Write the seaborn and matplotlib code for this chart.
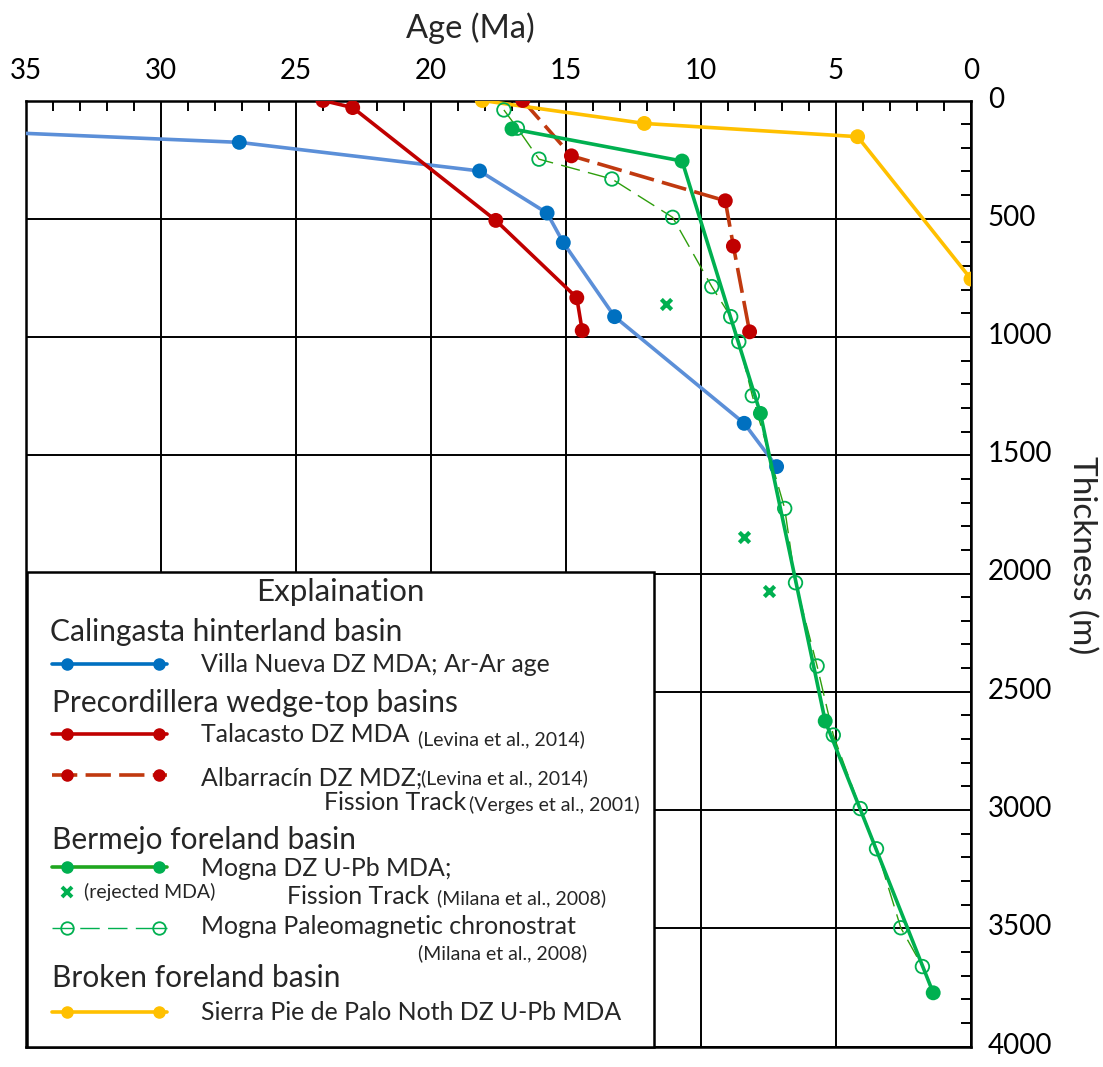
import matplotlib
matplotlib.use("Agg")
import matplotlib.pyplot as plt
import matplotlib.transforms as mtransforms
import seaborn as sns
import pandas as pd
from matplotlib.lines import Line2D
from matplotlib.patches import Rectangle
from matplotlib.ticker import MultipleLocator

# ---- data: age (Ma) vs stratigraphic thickness (m) ----
villa_age = [40.0, 27.1, 18.2, 15.7, 15.1, 13.2, 8.4, 7.2]
villa_thk = [115, 177, 298, 476, 601, 914, 1365, 1548]

talacasto_age = [24.0, 22.9, 17.6, 14.6, 14.4]
talacasto_thk = [0, 30, 507, 834, 973]

albarracin_age = [16.6, 14.8, 9.1, 8.8, 8.2]
albarracin_thk = [0, 234, 424, 616, 978]

mogna_age = [17.0, 10.7, 7.8, 5.4, 1.4]
mogna_thk = [120, 256, 1323, 2624, 3773]

rejected_age = [11.3, 8.4, 7.5]
rejected_thk = [861, 1845, 2074]

paleomag_age = [17.3, 16.8, 16.0, 13.3, 11.05, 9.6, 8.9, 8.6, 8.1, 6.9, 6.5,
                5.7, 5.1, 4.1, 3.5, 2.6, 1.8]
paleomag_thk = [40, 117, 248, 332, 494, 787, 914, 1020, 1248, 1725, 2039,
                2391, 2683, 2994, 3164, 3498, 3662]

sierra_age = [18.1, 12.1, 4.2, 0.0]
sierra_thk = [0, 97, 153, 755]

age_ticks = [35, 30, 25, 20, 15, 10, 5, 0]
thk_ticks = [0, 500, 1000, 1500, 2000, 2500, 3000, 3500, 4000]

# ---- colours ----
BLUE_LINE = "#5B8FD8"
BLUE_MK = "#0070C0"
RED = "#C00000"
RED_DASH = "#C0390F"
GREEN = "#00B050"
GREEN_DASH = "#2E9E0C"
YELLOW = "#FFC000"

sns.set_style("white")
plt.rcParams["font.family"] = ["Lato", "DejaVu Sans"]

W, H, DPI = 1103, 1067, 100
fig = plt.figure(figsize=(W / DPI, H / DPI), dpi=DPI)
# pixel transform with origin top-left
pix = mtransforms.Affine2D().scale(1 / W, -1 / H).translate(0, 1) + fig.transFigure

AX_L, AX_R, AX_T, AX_B = 26, 971, 100.5, 1046.5
ax = fig.add_axes([AX_L / W, 1 - AX_B / H, (AX_R - AX_L) / W, (AX_B - AX_T) / H])

LW = 2.6
MS = 115

def frame(x, y):
    return pd.DataFrame({"age": x, "thk": y})

# Villa Nueva
d = frame(villa_age, villa_thk)
sns.lineplot(data=d, x="age", y="thk", sort=False, estimator=None, ax=ax,
             color=BLUE_LINE, lw=LW, zorder=3)
sns.scatterplot(data=d, x="age", y="thk", ax=ax, color=BLUE_MK, s=MS,
                edgecolor="none", zorder=4)

# Talacasto
d = frame(talacasto_age, talacasto_thk)
sns.lineplot(data=d, x="age", y="thk", sort=False, estimator=None, ax=ax,
             color=RED, lw=LW, zorder=3)
sns.scatterplot(data=d, x="age", y="thk", ax=ax, color=RED, s=MS,
                edgecolor="none", zorder=4)

# Albarracin
d = frame(albarracin_age, albarracin_thk)
sns.lineplot(data=d, x="age", y="thk", sort=False, estimator=None, ax=ax,
             color=RED_DASH, lw=LW, ls=(0, (7, 2.3)), zorder=3)
sns.scatterplot(data=d, x="age", y="thk", ax=ax, color=RED, s=MS,
                edgecolor="none", zorder=4)

# Mogna paleomagnetic chronostratigraphy
d = frame(paleomag_age, paleomag_thk)
sns.lineplot(data=d, x="age", y="thk", sort=False, estimator=None, ax=ax,
             color=GREEN_DASH, lw=1.0, ls=(0, (14, 6)), zorder=3)
sns.scatterplot(data=d, x="age", y="thk", ax=ax, s=95, facecolor="none",
                edgecolor=GREEN, linewidth=1.3, zorder=5)

# Mogna DZ U-Pb
d = frame(mogna_age, mogna_thk)
sns.lineplot(data=d, x="age", y="thk", sort=False, estimator=None, ax=ax,
             color=GREEN, lw=LW, zorder=4)
sns.scatterplot(data=d, x="age", y="thk", ax=ax, color=GREEN, s=MS,
                edgecolor="none", zorder=5)

# rejected MDA
d = frame(rejected_age, rejected_thk)
sns.scatterplot(data=d, x="age", y="thk", ax=ax, color=GREEN, marker="x",
                s=55, linewidth=3, zorder=5)

# Sierra Pie de Palo
d = frame(sierra_age, sierra_thk)
sns.lineplot(data=d, x="age", y="thk", sort=False, estimator=None, ax=ax,
             color=YELLOW, lw=LW, zorder=3)
sns.scatterplot(data=d, x="age", y="thk", ax=ax, color=YELLOW, s=MS,
                edgecolor="none", zorder=4)

# ---- axes ----
ax.set_xlim(35, 0)
ax.set_ylim(4000, 0)
ax.xaxis.tick_top()
ax.yaxis.tick_right()
ax.set_xticks(age_ticks)
ax.set_yticks(thk_ticks)
ax.xaxis.set_minor_locator(MultipleLocator(1))
ax.yaxis.set_minor_locator(MultipleLocator(100))
ax.tick_params(which="both", direction="in", colors="black", width=1.4)
ax.tick_params(axis="x", which="major", length=0, labelsize=20, pad=12,
               top=True, bottom=False)
ax.tick_params(axis="x", which="minor", length=7, top=True, bottom=False)
ax.tick_params(axis="y", which="major", length=0, labelsize=20, pad=12,
               right=True, left=False)
ax.tick_params(axis="y", which="minor", length=7, right=True, left=False)
ax.grid(True, which="major", color="black", lw=1.4)
for sp in ax.spines.values():
    sp.set_color("black")
    sp.set_linewidth(1.8)

# thickness labels sit slightly above their grid lines
lift = mtransforms.ScaledTranslation(0, 3.5 / DPI, fig.dpi_scale_trans)
for lab in ax.get_yticklabels():
    lab.set_transform(lab.get_transform() + lift)

ax.set_xlabel("Age (Ma)", fontsize=23.5)
ax.xaxis.set_label_position("top")
ax.xaxis.set_label_coords((470 - AX_L) / (AX_R - AX_L), (AX_B - 28) / (AX_B - AX_T))
ax.xaxis.label.set_va("center")
ax.set_ylabel("Thickness (m)", fontsize=24, rotation=270)
ax.yaxis.set_label_position("right")
ax.yaxis.set_label_coords((1082 - AX_L) / (AX_R - AX_L), (AX_B - 555) / (AX_B - AX_T))
ax.yaxis.label.set_va("center")

# ---- explanation box ----
fig.add_artist(Rectangle((27, 572), 627, AX_B - 572, transform=pix,
                         facecolor="white", edgecolor="black", lw=1.8, zorder=2))

HEAD = 21.5
ITEM = 17.9
CITE = 14.0


def txt(x, y, s, size, ha="left"):
    fig.text(x, y, s, transform=pix, fontsize=size, ha=ha, va="center",
             zorder=3)


def sample(y, line_color, mk_color, ls="-", lw=LW, open_mk=False):
    fig.add_artist(Line2D([52, 167], [y, y], transform=pix, color=line_color,
                          lw=lw, ls=ls, zorder=3))
    if open_mk:
        fig.add_artist(Line2D([67, 159], [y, y], transform=pix, ls="none",
                              marker="o", ms=9, mfc="white", mec=mk_color,
                              mew=1.3, zorder=4))
        fig.add_artist(Line2D([61, 73], [y, y], transform=pix, color=mk_color,
                              lw=1.0, zorder=5))
        fig.add_artist(Line2D([153, 165], [y, y], transform=pix, color=mk_color,
                              lw=1.0, zorder=5))
    else:
        fig.add_artist(Line2D([67, 159], [y, y], transform=pix, ls="none",
                              marker="o", ms=8, mfc=mk_color, mec=mk_color,
                              zorder=4))


txt(340, 592, "Explaination", 22.5, ha="center")
txt(50, 632, "Calingasta hinterland basin", HEAD)
sample(664, BLUE_MK, BLUE_MK)
txt(201, 664, "Villa Nueva DZ MDA; Ar-Ar age", ITEM)

txt(52, 703, "Precordillera wedge-top basins", HEAD)
sample(734, RED, RED)
txt(201, 735, "Talacasto DZ MDA", ITEM)
txt(418, 739, "(Levina et al., 2014)", CITE)
sample(775, RED_DASH, RED, ls=(0, (7, 2.3)))
txt(201, 778, "Albarracín DZ MDZ;", ITEM)
txt(421, 778, "(Levina et al., 2014)", CITE)
txt(324, 803, "Fission Track", ITEM)
txt(469, 805, "(Verges et al., 2001)", CITE)

txt(52, 840, "Bermejo foreland basin", HEAD)
sample(867, "#1FA61F", GREEN)
txt(201, 869, "Mogna DZ U-Pb MDA;", ITEM)
fig.add_artist(Line2D([67], [892], transform=pix, ls="none", marker="x",
                      ms=7, mec=GREEN, mew=2.8, zorder=4))
txt(84, 892, "(rejected MDA)", CITE)
txt(287, 897, "Fission Track", ITEM)
txt(437, 898, "(Milana et al., 2008)", CITE)
sample(928, GREEN, GREEN, ls=(0, (14, 6)), lw=1.0, open_mk=True)
txt(201, 927, "Mogna Paleomagnetic chronostrat", ITEM)
txt(418, 953, "(Milana et al., 2008)", CITE)

txt(52, 978, "Broken foreland basin", HEAD)
sample(1012, YELLOW, YELLOW)
txt(201, 1013, "Sierra Pie de Palo Noth DZ U-Pb MDA", ITEM)

fig.savefig("out.png", dpi=DPI)
